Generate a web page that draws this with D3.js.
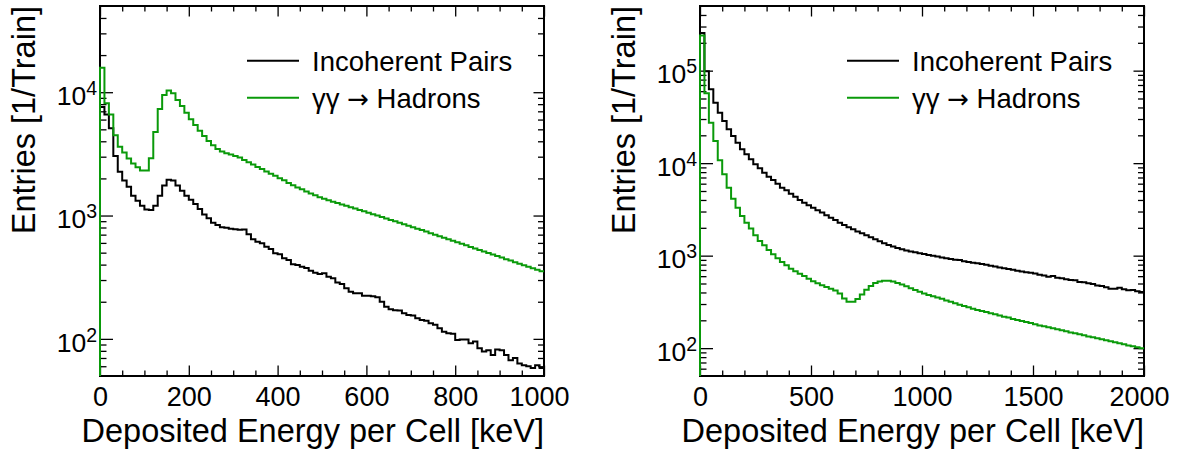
<!DOCTYPE html>
<html>
<head>
<meta charset="utf-8">
<script src="https://cdn.jsdelivr.net/npm/d3@7"></script>
<style>
  body { margin: 0; background: #fff; }
  text { font-family: "Liberation Sans", Arial, Helvetica, sans-serif; fill: #000; }
</style>
</head>
<body>
<div class="canvas"></div>
<script>
// bin contents (100 bins each)
const leftPairs = [7600, 6600, 5100, 3040, 2270, 1920, 1710, 1450, 1320, 1200,
  1120, 1110, 1200, 1450, 1750, 1950, 1920, 1750, 1590, 1450,
  1340, 1240, 1130, 1020, 950, 876, 838, 802, 798, 782,
  775, 768, 770, 704, 641, 614, 595, 559, 535, 494,
  485, 450, 436, 402, 397, 385, 375, 357, 344, 336,
  340, 319, 310, 286, 279, 257, 241, 234, 234, 224,
  224, 222, 218, 200, 182, 174, 171, 170, 161, 156,
  155, 147, 142, 140, 134, 130, 122, 114, 111, 110,
  98, 99, 99, 92, 95, 84, 79, 81, 74, 82,
  81, 74, 67, 70, 63, 61, 60, 58, 61, 58];

const leftHadrons = [15800, 8130, 6600, 4470, 3620, 3250, 2900, 2640, 2460, 2320,
  2320, 2910, 4750, 7300, 9500, 10300, 9800, 8650, 7730, 6830,
  6030, 5420, 4880, 4420, 4020, 3710, 3460, 3300, 3200, 3120,
  3040, 2950, 2820, 2700, 2590, 2480, 2380, 2280, 2180, 2100,
  2010, 1930, 1840, 1760, 1690, 1630, 1570, 1510, 1460, 1410,
  1365, 1330, 1296, 1263, 1231, 1200, 1169, 1139, 1110, 1081,
  1053, 1026, 999, 973, 947, 922, 897, 873, 850, 827,
  805, 783, 762, 741, 720, 700, 680, 661, 643, 625,
  607, 590, 573, 557, 541, 526, 511, 497, 483, 469,
  456, 443, 431, 419, 407, 396, 385, 374, 363, 353];

const rightPairs = [255000, 98300, 62800, 45100, 35100, 28600, 23200, 19700, 16650, 14110,
  12460, 11000, 9710, 8790, 7890, 7140, 6570, 6000, 5430, 5080,
  4680, 4340, 4000, 3740, 3500, 3300, 3090, 2920, 2730, 2575,
  2430, 2270, 2145, 2025, 1925, 1830, 1745, 1660, 1577, 1500,
  1430, 1365, 1305, 1255, 1210, 1170, 1140, 1112, 1086, 1062,
  1040, 1018, 997, 977, 957, 938, 920, 902, 895, 870,
  855, 840, 826, 812, 799, 778, 762, 746, 732, 716,
  702, 686, 672, 661, 655, 640, 623, 612, 593, 603,
  578, 569, 555, 546, 541, 519, 515, 502, 494, 477,
  470, 455, 440, 440, 451, 432, 422, 425, 411, 405];

const rightHadrons = [240000, 56900, 27400, 17360, 10730, 7575, 5430, 4130, 3300, 2685,
  2270, 1960, 1660, 1440, 1293, 1151, 1034, 936, 854, 786,
  723, 677, 639, 603, 564, 528, 502, 478, 458, 440,
  420, 390, 345, 318, 318, 340, 380, 428, 470, 505,
  527, 537, 535, 524, 507, 487, 466, 445, 425, 406,
  390, 376, 365, 353, 341, 328, 318, 305, 295, 286,
  276, 267, 259, 252, 246, 238, 232, 225, 219, 214,
  207, 201, 197, 192, 187, 181, 176, 172, 168, 164,
  160, 156, 152, 148, 145, 141, 138, 134, 131, 128,
  125, 122, 119, 116, 113, 110, 107, 105, 102, 100];

// axis ticks
const leftXTicks = [0, 200, 400, 600, 800, 1000];
const rightXTicks = [0, 500, 1000, 1500, 2000];
const leftDecades = [2, 3, 4];
const rightDecades = [2, 3, 4, 5];

// legend entries: [before arrow, arrow, after arrow]
const seriesNames = [['Incoherent Pairs', '', ''], ['γγ ', '→', ' Hadrons']];
const colors = ['#000000', '#0a9a0a'];

const svg = d3.select('.canvas')
    .append('svg')
    .attr('width', 1178)
    .attr('height', 454);

const graphWidth = 444;
const graphHeight = 370;

function logMinors(dom) {
    const out = [];
    for (let e = 1; e <= 6; e++) {
        for (let m = 2; m <= 9; m++) {
            const v = m * Math.pow(10, e);
            if (v > dom[0] && v < dom[1]) out.push(v);
        }
    }
    return out;
}

function drawPanel(p) {
    const graph = svg.append('g')
        .attr('transform', `translate(${p.left}, 6)`);

    const x = d3.scaleLinear().domain([0, p.xMax]).range([0, graphWidth]);
    const y = d3.scaleLog().domain(p.yDomain).range([graphHeight, 0]).clamp(true);

    const tidy = (sel, size) => {
        sel.select('.domain').remove();
        sel.selectAll('line').attr('stroke', '#000').attr('stroke-width', 1.3);
        sel.selectAll('text').attr('font-size', size).attr('font-family', null).attr('fill', '#000');
    };

    const minorX = d3.range(0, p.xMax + 1, p.xMinor).filter(v => !p.xTicks.includes(v));

    // bottom axis with labels
    graph.append('g')
        .attr('transform', `translate(0, ${graphHeight})`)
        .call(d3.axisBottom(x).tickValues(p.xTicks).tickSize(-10.5).tickPadding(11).tickFormat(d3.format('d')))
        .call(s => tidy(s, 27))
        .call(s => s.selectAll('text').filter(d => d === p.xMax).attr('dx', -5));
    graph.append('g')
        .attr('transform', `translate(0, ${graphHeight})`)
        .call(d3.axisBottom(x).tickValues(minorX).tickSize(-5.5).tickFormat(''))
        .call(s => tidy(s, 0));
    // top axis
    graph.append('g')
        .call(d3.axisTop(x).tickValues(p.xTicks).tickSize(-10.5).tickFormat(''))
        .call(s => tidy(s, 0));
    graph.append('g')
        .call(d3.axisTop(x).tickValues(minorX).tickSize(-5.5).tickFormat(''))
        .call(s => tidy(s, 0));

    const majorY = p.decades.map(k => Math.pow(10, k));
    const minorY = logMinors(p.yDomain);

    // left axis
    graph.append('g')
        .call(d3.axisLeft(y).tickValues(majorY).tickSize(-13).tickFormat(''))
        .call(s => tidy(s, 0));
    graph.append('g')
        .call(d3.axisLeft(y).tickValues(minorY).tickSize(-6.5).tickFormat(''))
        .call(s => tidy(s, 0));
    // right axis
    graph.append('g')
        .attr('transform', `translate(${graphWidth}, 0)`)
        .call(d3.axisRight(y).tickValues(majorY).tickSize(-10.5).tickFormat(''))
        .call(s => tidy(s, 0));
    graph.append('g')
        .attr('transform', `translate(${graphWidth}, 0)`)
        .call(d3.axisRight(y).tickValues(minorY).tickSize(-6).tickFormat(''))
        .call(s => tidy(s, 0));

    // y labels 10^k
    const ylab = graph.selectAll('.ylab')
        .data(p.decades)
        .enter()
        .append('text')
        .attr('class', 'ylab')
        .attr('x', -3)
        .attr('y', k => y(Math.pow(10, k)) + 12.8)
        .attr('text-anchor', 'end');
    ylab.append('tspan').attr('font-size', 26.5).text('10');
    ylab.append('tspan').attr('font-size', 19.5).attr('dy', -10).text(k => k);

    // frame
    graph.append('rect')
        .attr('width', graphWidth)
        .attr('height', graphHeight)
        .attr('fill', 'none')
        .attr('stroke', '#000')
        .attr('stroke-width', 2);

    // histograms as steps
    const binW = p.xMax / p.series[0].length;
    const step = vals => {
        let d = `M${x(0)},${graphHeight}`;
        vals.forEach((v, i) => {
            d += `V${y(v)}H${x((i + 1) * binW)}`;
        });
        return d;
    };
    graph.selectAll('.hist')
        .data(p.series)
        .enter()
        .append('path')
        .attr('class', 'hist')
        .attr('d', step)
        .attr('fill', 'none')
        .attr('stroke', (d, i) => colors[i])
        .attr('stroke-width', 2)
        .attr('stroke-linejoin', 'miter');

    // legend
    const leg = graph.selectAll('.leg')
        .data(seriesNames)
        .enter()
        .append('g')
        .attr('class', 'leg')
        .attr('transform', (d, i) => `translate(147, ${54.7 + i * 37})`);
    leg.append('line')
        .attr('x1', 0).attr('x2', 52)
        .attr('stroke', (d, i) => colors[i])
        .attr('stroke-width', 2);
    const legText = leg.append('text')
        .attr('x', 65)
        .attr('y', 10.3)
        .attr('font-size', 27.5);
    legText.append('tspan').text(d => d[0]);
    legText.append('tspan').style('font-family', '"DejaVu Sans", sans-serif').attr('font-size', 26).text(d => d[1]);
    legText.append('tspan').text(d => d[2]);

    // axis titles
    graph.append('text')
        .attr('x', graphWidth)
        .attr('y', 436)
        .attr('text-anchor', 'end')
        .attr('font-size', 32.5)
        .text('Deposited Energy per Cell [keV]');
    graph.append('text')
        .attr('transform', `translate(-65, 0) rotate(-90)`)
        .attr('text-anchor', 'end')
        .attr('font-size', 32.5)
        .text('Entries [1/Train]');
}

drawPanel({
    left: 100, xMax: 1000, xMinor: 50, xTicks: leftXTicks,
    yDomain: [50, 50000], decades: leftDecades,
    series: [leftPairs, leftHadrons]
});
drawPanel({
    left: 700, xMax: 2000, xMinor: 100, xTicks: rightXTicks,
    yDomain: [50, 500000], decades: rightDecades,
    series: [rightPairs, rightHadrons]
});
</script>
</body>
</html>
